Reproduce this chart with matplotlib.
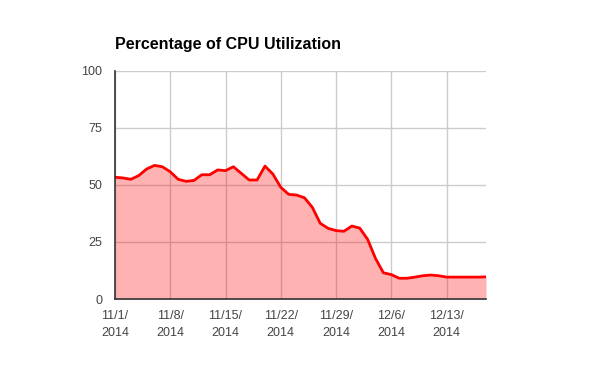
import numpy as np
import pandas as pd
from matplotlib import pyplot as plt

# daily CPU utilization (%), 11/1/2014 .. 12/18/2014
start_date = '2014-11-01'
cpu_pct = [53.4, 53.1, 52.5, 54.1, 57.0, 58.6, 58.0, 55.8, 52.5, 51.6,
           52.0, 54.5, 54.5, 56.6, 56.3, 58.0, 55.1, 52.2, 52.2, 58.3,
           54.8, 49.0, 45.9, 45.6, 44.4, 40.2, 33.2, 31.0, 30.0, 29.7,
           32.0, 31.1, 26.2, 17.8, 11.5, 10.7, 9.1, 9.1, 9.6, 10.2,
           10.5, 10.2, 9.6, 9.6, 9.6, 9.6, 9.6, 9.7]
y_ticks = [0, 25, 50, 75, 100]
title = 'Percentage of CPU Utilization'

dates = pd.date_range(start_date, periods=len(cpu_pct), freq='D')
days = np.arange(len(cpu_pct))
x_ticks = days[::7]
x_labels = [f'{d.month}/{d.day}/\n{d.year}' for d in dates[::7]]

plt.rcParams['font.family'] = ['Liberation Sans', 'DejaVu Sans']

fig = plt.figure(figsize=(6, 3.71), dpi=100)
ax = fig.add_axes([115 / 600, 72 / 371, 371 / 600, 228 / 371])

ax.grid(True, color='#cccccc', linewidth=1.0, zorder=1)
ax.set_axisbelow(True)
# translucent fill so grid lines show through as darker pink
ax.fill_between(days, cpu_pct, 0, color='#ff0000', alpha=0.3, linewidth=0, zorder=2)
ax.plot(days, cpu_pct, color='#ff0000', linewidth=2.0, zorder=3)

ax.set_xlim(0, len(cpu_pct) - 1)
ax.set_ylim(0, 100)
ax.set_xticks(x_ticks)
ax.set_xticklabels(x_labels)
ax.set_yticks(y_ticks)

for side in ('top', 'right'):
    ax.spines[side].set_visible(False)
for side in ('left', 'bottom'):
    ax.spines[side].set_color('#333333')
    ax.spines[side].set_linewidth(1.2)
    ax.spines[side].set_zorder(4)

ax.tick_params(length=0, labelsize=9, labelcolor='#444444', pad=9)
ax.tick_params(axis='x', pad=8)
for lbl in ax.get_xticklabels():
    lbl.set_linespacing(1.5)

fig.text(115 / 600, 1 - 45 / 371, title, fontsize=11.5, fontweight='bold',
         va='center', ha='left', color='#000000')

fig.savefig('out.png', dpi=100)
